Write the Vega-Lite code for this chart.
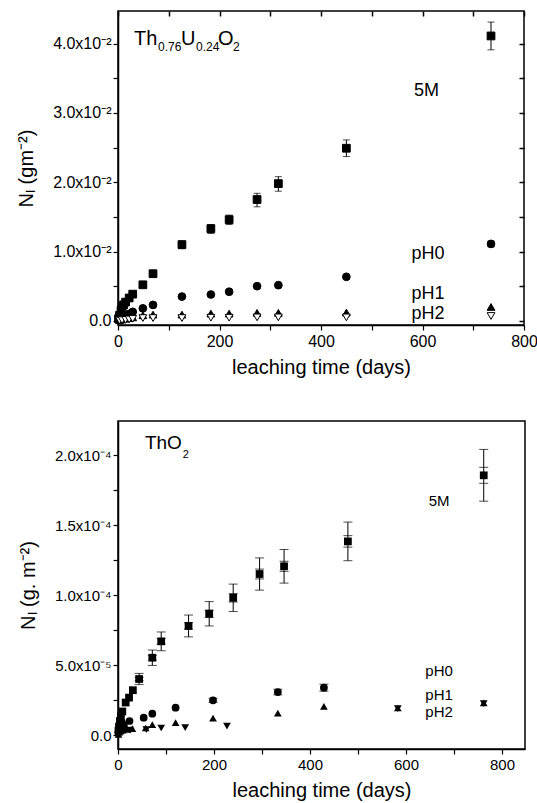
{
  "$schema": "https://vega.github.io/schema/vega-lite/v6.json",
  "padding": {"left": 15, "top": 9, "right": 5, "bottom": 5},
  "spacing": 42,
  "config": {
    "font": "Liberation Sans",
    "view": {"stroke": "black", "strokeWidth": 1.5},
    "axis": {
      "grid": false,
      "domainColor": "black",
      "domainWidth": 1.5,
      "tickColor": "black",
      "tickWidth": 1.2,
      "tickSize": 5,
      "labelColor": "black",
      "labelFlush": false,
      "labelOverlap": false,
      "titleColor": "black",
      "titleFontWeight": "normal",
      "titleFontSize": 20
    }
  },
  "datasets": {
    "top": [
      {"t": 1, "y": 0.0003, "s": "5M"},
      {"t": 3, "y": 0.0008, "s": "5M"},
      {"t": 6, "y": 0.0015, "s": "5M"},
      {"t": 8, "y": 0.0019, "s": "5M"},
      {"t": 11, "y": 0.0023, "s": "5M"},
      {"t": 15, "y": 0.0027, "s": "5M"},
      {"t": 22, "y": 0.0033, "s": "5M"},
      {"t": 29, "y": 0.00385, "s": "5M", "lo": 0.0036, "hi": 0.0041},
      {"t": 49, "y": 0.0052, "s": "5M", "lo": 0.0049, "hi": 0.0055},
      {"t": 69, "y": 0.0068, "s": "5M", "lo": 0.0064, "hi": 0.0071},
      {"t": 126, "y": 0.011, "s": "5M", "lo": 0.0104, "hi": 0.0115},
      {"t": 183, "y": 0.0133, "s": "5M", "lo": 0.0126, "hi": 0.0139},
      {"t": 219, "y": 0.0146, "s": "5M", "lo": 0.0139, "hi": 0.01525},
      {"t": 274, "y": 0.0175, "s": "5M", "lo": 0.01645, "hi": 0.0184},
      {"t": 316, "y": 0.0198, "s": "5M", "lo": 0.0187, "hi": 0.0208},
      {"t": 450, "y": 0.0249, "s": "5M", "lo": 0.0237, "hi": 0.0261},
      {"t": 735, "y": 0.0411, "s": "5M", "lo": 0.0391, "hi": 0.0431},
      {"t": 3, "y": 0.0002, "s": "pH0"},
      {"t": 6, "y": 0.0004, "s": "pH0"},
      {"t": 8, "y": 0.0005, "s": "pH0"},
      {"t": 11, "y": 0.0006, "s": "pH0"},
      {"t": 15, "y": 0.0007, "s": "pH0"},
      {"t": 19, "y": 0.0008, "s": "pH0"},
      {"t": 22, "y": 0.001, "s": "pH0"},
      {"t": 29, "y": 0.0013, "s": "pH0"},
      {"t": 49, "y": 0.0018, "s": "pH0"},
      {"t": 69, "y": 0.0023, "s": "pH0"},
      {"t": 126, "y": 0.0035, "s": "pH0"},
      {"t": 183, "y": 0.0038, "s": "pH0"},
      {"t": 219, "y": 0.0042, "s": "pH0"},
      {"t": 274, "y": 0.005, "s": "pH0"},
      {"t": 316, "y": 0.00515, "s": "pH0"},
      {"t": 450, "y": 0.00635, "s": "pH0", "lo": 0.0061, "hi": 0.0066},
      {"t": 735, "y": 0.0111, "s": "pH0", "lo": 0.0107, "hi": 0.0115},
      {"t": 3, "y": 0.0001, "s": "pH1"},
      {"t": 8, "y": 0.0002, "s": "pH1"},
      {"t": 15, "y": 0.0003, "s": "pH1"},
      {"t": 22, "y": 0.0004, "s": "pH1"},
      {"t": 29, "y": 0.0005, "s": "pH1"},
      {"t": 49, "y": 0.0008, "s": "pH1"},
      {"t": 69, "y": 0.0009, "s": "pH1"},
      {"t": 126, "y": 0.0009, "s": "pH1"},
      {"t": 183, "y": 0.00105, "s": "pH1"},
      {"t": 219, "y": 0.00105, "s": "pH1"},
      {"t": 274, "y": 0.00115, "s": "pH1"},
      {"t": 316, "y": 0.00115, "s": "pH1"},
      {"t": 450, "y": 0.0012, "s": "pH1"},
      {"t": 735, "y": 0.002, "s": "pH1"},
      {"t": 3, "y": 0.00005, "s": "pH2"},
      {"t": 8, "y": 0.0001, "s": "pH2"},
      {"t": 15, "y": 0.00015, "s": "pH2"},
      {"t": 22, "y": 0.0002, "s": "pH2"},
      {"t": 29, "y": 0.0003, "s": "pH2"},
      {"t": 49, "y": 0.0004, "s": "pH2"},
      {"t": 69, "y": 0.0004, "s": "pH2"},
      {"t": 126, "y": 0.0004, "s": "pH2"},
      {"t": 183, "y": 0.00045, "s": "pH2"},
      {"t": 219, "y": 0.00045, "s": "pH2"},
      {"t": 274, "y": 0.0005, "s": "pH2"},
      {"t": 316, "y": 0.0005, "s": "pH2"},
      {"t": 450, "y": 0.0005, "s": "pH2"},
      {"t": 735, "y": 0.0007, "s": "pH2"}
    ],
    "topLabels": [
      {"t": 608, "y": 0.0325, "text": "5M"},
      {"t": 611, "y": 0.00895, "text": "pH0"},
      {"t": 611, "y": 0.00317, "text": "pH1"},
      {"t": 611, "y": 0.00029, "text": "pH2"}
    ],
    "topTitleBig": [
      {"t": 31.5, "y": 0.03978, "text": "Th"},
      {"t": 124, "y": 0.03978, "text": "U"},
      {"t": 197, "y": 0.03978, "text": "O"}
    ],
    "topTitleSub": [
      {"t": 78.8, "y": 0.0389, "text": "0.76"},
      {"t": 153.7, "y": 0.0389, "text": "0.24"},
      {"t": 226.6, "y": 0.0389, "text": "2"}
    ],
    "bottom": [
      {"t": 1, "y": 0.3e-5, "s": "5M"},
      {"t": 2, "y": 0.6e-5, "s": "5M"},
      {"t": 4, "y": 1.0e-5, "s": "5M"},
      {"t": 6, "y": 1.35e-5, "s": "5M"},
      {"t": 9, "y": 1.68e-5, "s": "5M"},
      {"t": 16, "y": 2.32e-5, "s": "5M"},
      {"t": 23, "y": 2.67e-5, "s": "5M"},
      {"t": 31, "y": 3.2e-5, "s": "5M"},
      {"t": 44, "y": 4.0e-5, "s": "5M", "lo": 3.6e-5, "hi": 4.4e-5, "lo2": 3.88e-5, "hi2": 4.12e-5},
      {"t": 71.5, "y": 5.52e-5, "s": "5M", "lo": 4.97e-5, "hi": 6.07e-5, "lo2": 5.35e-5, "hi2": 5.69e-5},
      {"t": 90, "y": 6.69e-5, "s": "5M", "lo": 6.02e-5, "hi": 7.36e-5, "lo2": 6.49e-5, "hi2": 6.89e-5},
      {"t": 147, "y": 7.79e-5, "s": "5M", "lo": 7.01e-5, "hi": 8.57e-5, "lo2": 7.56e-5, "hi2": 8.02e-5},
      {"t": 190, "y": 8.66e-5, "s": "5M", "lo": 7.79e-5, "hi": 9.53e-5, "lo2": 8.4e-5, "hi2": 8.92e-5},
      {"t": 240, "y": 9.8e-5, "s": "5M", "lo": 8.82e-5, "hi": 10.78e-5, "lo2": 9.5e-5, "hi2": 10.1e-5},
      {"t": 295, "y": 11.5e-5, "s": "5M", "lo": 10.35e-5, "hi": 12.65e-5, "lo2": 11.15e-5, "hi2": 11.85e-5},
      {"t": 346, "y": 12.05e-5, "s": "5M", "lo": 10.85e-5, "hi": 13.25e-5, "lo2": 11.69e-5, "hi2": 12.41e-5},
      {"t": 479, "y": 13.83e-5, "s": "5M", "lo": 12.45e-5, "hi": 15.21e-5, "lo2": 13.42e-5, "hi2": 14.24e-5},
      {"t": 762, "y": 18.55e-5, "s": "5M", "lo": 16.7e-5, "hi": 20.4e-5, "lo2": 17.98e-5, "hi2": 19.12e-5},
      {"t": 1, "y": 0.2e-5, "s": "pH0"},
      {"t": 3, "y": 0.5e-5, "s": "pH0"},
      {"t": 5, "y": 0.8e-5, "s": "pH0"},
      {"t": 8, "y": 0.9e-5, "s": "pH0"},
      {"t": 12, "y": 0.7e-5, "s": "pH0"},
      {"t": 24, "y": 1.0e-5, "s": "pH0"},
      {"t": 53.5, "y": 1.24e-5, "s": "pH0"},
      {"t": 71.5, "y": 1.52e-5, "s": "pH0"},
      {"t": 120, "y": 1.95e-5, "s": "pH0"},
      {"t": 198, "y": 2.48e-5, "s": "pH0", "lo": 2.33e-5, "hi": 2.63e-5},
      {"t": 333, "y": 3.07e-5, "s": "pH0", "lo": 2.87e-5, "hi": 3.27e-5},
      {"t": 429, "y": 3.38e-5, "s": "pH0", "lo": 3.13e-5, "hi": 3.63e-5},
      {"t": 1, "y": 0.05e-5, "s": "pH1"},
      {"t": 3, "y": 0.2e-5, "s": "pH1"},
      {"t": 5, "y": 0.3e-5, "s": "pH1"},
      {"t": 10, "y": 0.35e-5, "s": "pH1"},
      {"t": 20, "y": 0.4e-5, "s": "pH1"},
      {"t": 30, "y": 0.45e-5, "s": "pH1"},
      {"t": 57.7, "y": 0.5e-5, "s": "pH1"},
      {"t": 71.5, "y": 0.74e-5, "s": "pH1"},
      {"t": 120, "y": 0.88e-5, "s": "pH1"},
      {"t": 198, "y": 1.21e-5, "s": "pH1"},
      {"t": 333, "y": 1.57e-5, "s": "pH1"},
      {"t": 429, "y": 2.05e-5, "s": "pH1"},
      {"t": 583, "y": 1.93e-5, "s": "pH1"},
      {"t": 762, "y": 2.29e-5, "s": "pH1"},
      {"t": 1, "y": 0.05e-5, "s": "pH2"},
      {"t": 3, "y": 0.15e-5, "s": "pH2"},
      {"t": 6, "y": 0.25e-5, "s": "pH2"},
      {"t": 12, "y": 0.3e-5, "s": "pH2"},
      {"t": 25, "y": 0.35e-5, "s": "pH2"},
      {"t": 59, "y": 0.38e-5, "s": "pH2"},
      {"t": 90, "y": 0.5e-5, "s": "pH2"},
      {"t": 140, "y": 0.52e-5, "s": "pH2"},
      {"t": 227, "y": 0.64e-5, "s": "pH2"},
      {"t": 583, "y": 1.88e-5, "s": "pH2"},
      {"t": 762, "y": 2.24e-5, "s": "pH2"}
    ],
    "bottomLabels": [
      {"t": 669, "y": 16.36e-5, "text": "5M"},
      {"t": 669, "y": 4.21e-5, "text": "pH0"},
      {"t": 669, "y": 2.5e-5, "text": "pH1"},
      {"t": 669, "y": 1.29e-5, "text": "pH2"}
    ],
    "bottomTitleBig": [
      {"t": 56, "y": 20.45e-5, "text": "ThO"}
    ],
    "bottomTitleSub": [
      {"t": 135, "y": 19.8e-5, "text": "2"}
    ]
  },
  "vconcat": [
    {
      "width": 406,
      "height": 314,
      "resolve": {"axis": {"x": "independent", "y": "independent"}},
      "layer": [
        {
          "data": {"name": "top"},
          "transform": [{"filter": "isValid(datum.lo)"}],
          "mark": {"type": "rule", "color": "black", "strokeWidth": 1},
          "encoding": {
            "x": {"field": "t", "type": "quantitative", "axis": null, "scale": {"domain": [0, 800], "nice": false, "zero": false}},
            "y": {"field": "lo", "type": "quantitative", "axis": null, "scale": {"domain": [-0.0006, 0.0447], "nice": false, "zero": false}},
            "y2": {"field": "hi"}
          }
        },
        {
          "data": {"name": "top"},
          "transform": [{"filter": "isValid(datum.lo)"}],
          "mark": {"type": "tick", "orient": "horizontal", "color": "black", "size": 7, "thickness": 1},
          "encoding": {
            "x": {"field": "t", "type": "quantitative", "axis": null, "scale": {"domain": [0, 800], "nice": false, "zero": false}},
            "y": {"field": "lo", "type": "quantitative", "axis": null, "scale": {"domain": [-0.0006, 0.0447], "nice": false, "zero": false}}
          }
        },
        {
          "data": {"name": "top"},
          "transform": [{"filter": "isValid(datum.lo)"}],
          "mark": {"type": "tick", "orient": "horizontal", "color": "black", "size": 7, "thickness": 1},
          "encoding": {
            "x": {"field": "t", "type": "quantitative", "axis": null, "scale": {"domain": [0, 800], "nice": false, "zero": false}},
            "y": {"field": "hi", "type": "quantitative", "axis": null, "scale": {"domain": [-0.0006, 0.0447], "nice": false, "zero": false}}
          }
        },
        {
          "data": {"name": "top"},
          "mark": {"type": "point", "filled": true, "size": 60, "stroke": "black", "strokeWidth": 1, "opacity": 1},
          "encoding": {
            "x": {
              "field": "t", "type": "quantitative",
              "scale": {"domain": [0, 800], "nice": false, "zero": false},
              "axis": {
                "orient": "bottom", "title": "leaching time (days)",
                "values": [0, 100, 200, 300, 400, 500, 600, 700, 800],
                "labelExpr": "datum.value % 200 == 0 ? datum.label : ''",
                "labelFontSize": 16, "labelPadding": 3, "titlePadding": 8
              }
            },
            "y": {
              "field": "y", "type": "quantitative",
              "scale": {"domain": [-0.0006, 0.0447], "nice": false, "zero": false},
              "axis": {
                "orient": "left", "title": "Nₗ (gm⁻²)",
                "values": [0, 0.005, 0.01, 0.015, 0.02, 0.025, 0.03, 0.035, 0.04],
                "labelExpr": "datum.value == 0 ? '0.0' : (abs(datum.value*100 - round(datum.value*100)) < 0.000001 ? format(datum.value*100, '.1f') + 'x10⁻²' : '')",
                "labelFontSize": 16, "labelPadding": 2, "titlePadding": 16
              }
            },
            "shape": {"field": "s", "type": "nominal", "scale": {"domain": ["5M", "pH0", "pH1", "pH2"], "range": ["square", "circle", "triangle-up", "triangle-down"]}, "legend": null},
            "fill": {"condition": {"test": "datum.s == 'pH2'", "value": "white"}, "value": "black"}
          }
        },
        {
          "data": {"name": "top"},
          "mark": {"type": "point", "opacity": 0},
          "encoding": {
            "x": {
              "field": "t", "type": "quantitative",
              "scale": {"domain": [0, 800], "nice": false, "zero": false},
              "axis": {"orient": "top", "title": null, "labels": false, "domain": false, "tickSize": 5, "offset": -5, "tickWidth": 1.5, "values": [0, 100, 200, 300, 400, 500, 600, 700, 800]}
            },
            "y": {
              "field": "y", "type": "quantitative",
              "scale": {"domain": [-0.0006, 0.0447], "nice": false, "zero": false},
              "axis": {"orient": "right", "title": null, "labels": false, "domain": false, "tickSize": 5, "offset": -5, "tickWidth": 1.5, "values": [0, 0.005, 0.01, 0.015, 0.02, 0.025, 0.03, 0.035, 0.04]}
            }
          }
        },
        {
          "data": {"name": "topLabels"},
          "mark": {"type": "text", "fontSize": 18, "align": "center", "baseline": "alphabetic", "color": "black"},
          "encoding": {
            "x": {"field": "t", "type": "quantitative", "axis": null, "scale": {"domain": [0, 800], "nice": false, "zero": false}},
            "y": {"field": "y", "type": "quantitative", "axis": null, "scale": {"domain": [-0.0006, 0.0447], "nice": false, "zero": false}},
            "text": {"field": "text"}
          }
        },
        {
          "data": {"name": "topTitleBig"},
          "mark": {"type": "text", "fontSize": 20, "align": "left", "baseline": "alphabetic", "color": "black"},
          "encoding": {
            "x": {"field": "t", "type": "quantitative", "axis": null, "scale": {"domain": [0, 800], "nice": false, "zero": false}},
            "y": {"field": "y", "type": "quantitative", "axis": null, "scale": {"domain": [-0.0006, 0.0447], "nice": false, "zero": false}},
            "text": {"field": "text"}
          }
        },
        {
          "data": {"name": "topTitleSub"},
          "mark": {"type": "text", "fontSize": 12, "align": "left", "baseline": "alphabetic", "color": "black"},
          "encoding": {
            "x": {"field": "t", "type": "quantitative", "axis": null, "scale": {"domain": [0, 800], "nice": false, "zero": false}},
            "y": {"field": "y", "type": "quantitative", "axis": null, "scale": {"domain": [-0.0006, 0.0447], "nice": false, "zero": false}},
            "text": {"field": "text"}
          }
        }
      ]
    },
    {
      "width": 407,
      "height": 328,
      "resolve": {"axis": {"x": "independent", "y": "independent"}},
      "layer": [
        {
          "data": {"name": "bottom"},
          "transform": [{"filter": "isValid(datum.lo)"}],
          "mark": {"type": "rule", "color": "black", "strokeWidth": 1},
          "encoding": {
            "x": {"field": "t", "type": "quantitative", "axis": null, "scale": {"domain": [0, 848], "nice": false, "zero": false}},
            "y": {"field": "lo", "type": "quantitative", "axis": null, "scale": {"domain": [-1.0e-5, 22.43e-5], "nice": false, "zero": false}},
            "y2": {"field": "hi"}
          }
        },
        {
          "data": {"name": "bottom"},
          "transform": [{"filter": "isValid(datum.lo)"}],
          "mark": {"type": "tick", "orient": "horizontal", "color": "black", "size": 9, "thickness": 1},
          "encoding": {
            "x": {"field": "t", "type": "quantitative", "axis": null, "scale": {"domain": [0, 848], "nice": false, "zero": false}},
            "y": {"field": "lo", "type": "quantitative", "axis": null, "scale": {"domain": [-1.0e-5, 22.43e-5], "nice": false, "zero": false}}
          }
        },
        {
          "data": {"name": "bottom"},
          "transform": [{"filter": "isValid(datum.lo)"}],
          "mark": {"type": "tick", "orient": "horizontal", "color": "black", "size": 9, "thickness": 1},
          "encoding": {
            "x": {"field": "t", "type": "quantitative", "axis": null, "scale": {"domain": [0, 848], "nice": false, "zero": false}},
            "y": {"field": "hi", "type": "quantitative", "axis": null, "scale": {"domain": [-1.0e-5, 22.43e-5], "nice": false, "zero": false}}
          }
        },
        {
          "data": {"name": "bottom"},
          "transform": [{"filter": "isValid(datum.lo2)"}],
          "mark": {"type": "tick", "orient": "horizontal", "color": "black", "size": 9, "thickness": 1},
          "encoding": {
            "x": {"field": "t", "type": "quantitative", "axis": null, "scale": {"domain": [0, 848], "nice": false, "zero": false}},
            "y": {"field": "lo2", "type": "quantitative", "axis": null, "scale": {"domain": [-1.0e-5, 22.43e-5], "nice": false, "zero": false}}
          }
        },
        {
          "data": {"name": "bottom"},
          "transform": [{"filter": "isValid(datum.lo2)"}],
          "mark": {"type": "tick", "orient": "horizontal", "color": "black", "size": 9, "thickness": 1},
          "encoding": {
            "x": {"field": "t", "type": "quantitative", "axis": null, "scale": {"domain": [0, 848], "nice": false, "zero": false}},
            "y": {"field": "hi2", "type": "quantitative", "axis": null, "scale": {"domain": [-1.0e-5, 22.43e-5], "nice": false, "zero": false}}
          }
        },
        {
          "data": {"name": "bottom"},
          "mark": {"type": "point", "filled": true, "size": 60, "color": "black", "opacity": 1},
          "encoding": {
            "x": {
              "field": "t", "type": "quantitative",
              "scale": {"domain": [0, 848], "nice": false, "zero": false},
              "axis": {
                "orient": "bottom", "title": "leaching time (days)",
                "values": [0, 100, 200, 300, 400, 500, 600, 700, 800],
                "labelExpr": "datum.value % 200 == 0 ? datum.label : ''",
                "labelFontSize": 15, "labelPadding": 3, "titlePadding": 8
              }
            },
            "y": {
              "field": "y", "type": "quantitative",
              "scale": {"domain": [-1.0e-5, 22.43e-5], "nice": false, "zero": false},
              "axis": {
                "orient": "left", "title": "Nₗ (g. m⁻²)",
                "values": [0, 2.5e-5, 5e-5, 7.5e-5, 1e-4, 1.25e-4, 1.5e-4, 1.75e-4, 2e-4],
                "labelExpr": "datum.value == 0 ? '0.0' : (round(datum.value*1e6) == 50 ? '5.0x10⁻⁵' : (round(datum.value*1e6) == 100 ? '1.0x10⁻⁴' : (round(datum.value*1e6) == 150 ? '1.5x10⁻⁴' : (round(datum.value*1e6) == 200 ? '2.0x10⁻⁴' : ''))))",
                "labelFontSize": 15, "labelPadding": 2, "titlePadding": 16
              }
            },
            "shape": {"field": "s", "type": "nominal", "scale": {"domain": ["5M", "pH0", "pH1", "pH2"], "range": ["square", "circle", "triangle-up", "triangle-down"]}, "legend": null}
          }
        },
        {
          "data": {"name": "bottomLabels"},
          "mark": {"type": "text", "fontSize": 15, "align": "center", "baseline": "alphabetic", "color": "black"},
          "encoding": {
            "x": {"field": "t", "type": "quantitative", "axis": null, "scale": {"domain": [0, 848], "nice": false, "zero": false}},
            "y": {"field": "y", "type": "quantitative", "axis": null, "scale": {"domain": [-1.0e-5, 22.43e-5], "nice": false, "zero": false}},
            "text": {"field": "text"}
          }
        },
        {
          "data": {"name": "bottomTitleBig"},
          "mark": {"type": "text", "fontSize": 19, "align": "left", "baseline": "alphabetic", "color": "black"},
          "encoding": {
            "x": {"field": "t", "type": "quantitative", "axis": null, "scale": {"domain": [0, 848], "nice": false, "zero": false}},
            "y": {"field": "y", "type": "quantitative", "axis": null, "scale": {"domain": [-1.0e-5, 22.43e-5], "nice": false, "zero": false}},
            "text": {"field": "text"}
          }
        },
        {
          "data": {"name": "bottomTitleSub"},
          "mark": {"type": "text", "fontSize": 11, "align": "left", "baseline": "alphabetic", "color": "black"},
          "encoding": {
            "x": {"field": "t", "type": "quantitative", "axis": null, "scale": {"domain": [0, 848], "nice": false, "zero": false}},
            "y": {"field": "y", "type": "quantitative", "axis": null, "scale": {"domain": [-1.0e-5, 22.43e-5], "nice": false, "zero": false}},
            "text": {"field": "text"}
          }
        }
      ]
    }
  ]
}
